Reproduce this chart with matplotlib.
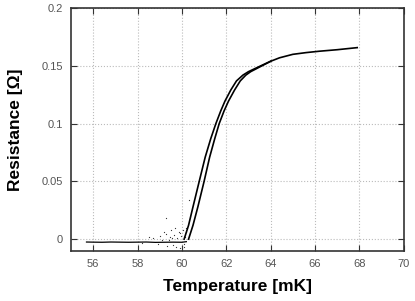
import matplotlib
matplotlib.use("Agg")
import matplotlib.pyplot as plt

plt.rcParams['font.family'] = ['Liberation Sans', 'DejaVu Sans']

# flat superconducting part (both sweeps overlap)
t_base = [55.7, 56.0, 56.4, 56.8, 57.2, 57.6, 58.0, 58.4, 58.8, 59.2, 59.6, 60.0, 60.2]
r_base = [-0.0025, -0.0026, -0.0027, -0.0025, -0.0026, -0.0027, -0.0026,
          -0.0025, -0.0028, -0.0027, -0.0026, -0.0027, -0.0022]

# transition, sweep 1 (lower temperature side)
t_up = [60.1, 60.3, 60.5, 60.78, 61.05, 61.3, 61.53, 61.75, 61.94, 62.2, 62.46,
        62.75, 63.0, 63.55, 64.0, 64.4, 65.0, 65.6, 66.2, 67.0, 67.9]
r_up = [0.0, 0.012, 0.028, 0.05, 0.071, 0.087, 0.1, 0.111, 0.1195, 0.129, 0.137,
        0.142, 0.145, 0.150, 0.154, 0.157, 0.160, 0.1615, 0.1627, 0.164, 0.1658]

# transition, sweep 2 (shifted to higher temperature)
t_down = [60.3, 60.5, 60.72, 61.0, 61.25, 61.48, 61.68, 61.9, 62.1, 62.37,
          62.63, 62.88, 63.1, 63.6, 64.0]
r_down = [0.0, 0.012, 0.028, 0.05, 0.071, 0.087, 0.1, 0.111, 0.1195, 0.129,
          0.137, 0.142, 0.145, 0.150, 0.154]

# scattered noise near the onset
t_noise = [58.7, 58.9, 59.0, 59.1, 59.2, 59.3, 59.35, 59.45, 59.5, 59.6, 59.65,
           59.7, 59.75, 59.8, 59.85, 59.9, 59.95, 60.0, 60.05, 60.1, 60.15, 60.2,
           59.4, 59.55, 59.9, 60.0, 60.1, 60.2, 59.3, 58.5, 58.2, 60.3]
r_noise = [0.001, -0.004, 0.003, -0.001, 0.006, 0.018, -0.006, 0.002, 0.008,
           -0.005, 0.004, 0.01, -0.007, 0.001, 0.006, -0.008, 0.003, -0.006,
           0.008, -0.004, 0.002, 0.006, -0.001, 0.001, 0.005, -0.008, -0.007,
           0.01, 0.0045, 0.002, -0.003, 0.034]

fig = plt.figure(figsize=(4.15, 3.01), dpi=100)
ax = fig.add_axes([0.171, 0.166, 0.802, 0.807])

ax.plot(t_base, r_base, color='black', lw=0.9)
ax.plot(t_up, r_up, color='black', lw=1.2)
ax.plot(t_down, r_down, color='black', lw=1.2)
ax.scatter(t_noise, r_noise, s=0.8, color='#333333', lw=0)

ax.set_xlim(55, 70)
ax.set_ylim(-0.0103, 0.2)
ax.set_xticks([56, 58, 60, 62, 64, 66, 68, 70])
ax.set_yticks([0, 0.05, 0.1, 0.15, 0.2])
ax.set_yticklabels(['0', '0.05', '0.1', '0.15', '0.2'])

ax.grid(True, color='#bbbbbb', linestyle=':', linewidth=0.8)
ax.tick_params(direction='in', top=True, right=True, length=4, width=0.8,
               labelsize=8, labelcolor='#555555', color='#333333', pad=6)
for s in ax.spines.values():
    s.set_linewidth(1.2)
    s.set_color('#333333')

ax.set_xlabel('Temperature [mK]', fontsize=12.5, fontweight='bold', labelpad=7)
ax.set_ylabel('Resistance [Ω]', fontsize=12.5, fontweight='bold', labelpad=13)

fig.savefig('out.png', dpi=100)
